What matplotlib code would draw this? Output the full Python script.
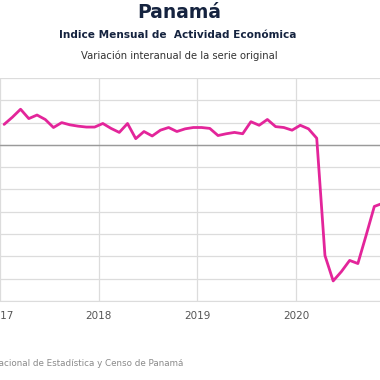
import numpy as np
import matplotlib
matplotlib.use("Agg")
import matplotlib.pyplot as plt

# variacion interanual (%) mensual, ene 2017 - nov 2020
start_year = 2017
imae_var = [4.6, 6.2, 8.0, 5.9, 6.7, 5.7, 3.9, 5.0, 4.5, 4.2, 4.0, 4.0,
            4.8, 3.7, 2.8, 4.8, 1.4, 3.0, 2.0, 3.3, 3.9, 3.0, 3.6, 3.9,
            3.9, 3.7, 2.1, 2.5, 2.8, 2.5, 5.2, 4.4, 5.7, 4.1, 3.9, 3.3,
            4.4, 3.6, 1.5, -24.8, -30.5, -28.4, -25.9, -26.6, -20.3, -13.8, -13.1]
years = [2017, 2018, 2019, 2020]

t = start_year + (np.arange(len(imae_var)) + 0.5) / 12

fig = plt.figure(figsize=(3.8, 3.8), dpi=100)
ax = fig.add_axes([0, 1 - 301 / 380, 1, 223 / 380])

ax.plot(t, imae_var, color="#e3259a", lw=2.0, solid_joinstyle="round",
        solid_capstyle="round", zorder=3)
ax.axhline(0, color="#9a9a9a", lw=1.0, zorder=2)

ax.set_xlim(2017 + 3 / 99.5, 2017 + 383 / 99.5)
ax.set_ylim(-35, 15)
ax.set_xticks(years)
ax.set_xticklabels([str(y) for y in years])
ax.set_yticks(np.arange(-35, 16, 5))
ax.set_yticklabels([])
ax.grid(True, color="#dcdcdc", lw=0.9)
ax.tick_params(length=0, labelsize=7.5, labelcolor="#555555", pad=7)
for s in ax.spines.values():
    s.set_visible(False)
ax.spines["bottom"].set_visible(True)
ax.spines["bottom"].set_color("#dcdcdc")

fig.text(0.472, 1 - 12 / 380, "Panamá", ha="center", va="center",
         fontsize=13.5, fontweight="bold", color="#15233f")
fig.text(0.468, 1 - 35 / 380, "Indice Mensual de  Actividad Económica",
         ha="center", va="center", fontsize=7.6, fontweight="bold", color="#15233f")
fig.text(0.472, 1 - 56 / 380, "Variación interanual de la serie original",
         ha="center", va="center", fontsize=7.2, color="#333333")
fig.text(183 / 380, 1 - 363 / 380,
         "Fuente: Instituto Nacional de Estadística y Censo de Panamá",
         ha="right", va="center", fontsize=6.3, color="#8a8a8a")

fig.savefig("out.png", dpi=100)
